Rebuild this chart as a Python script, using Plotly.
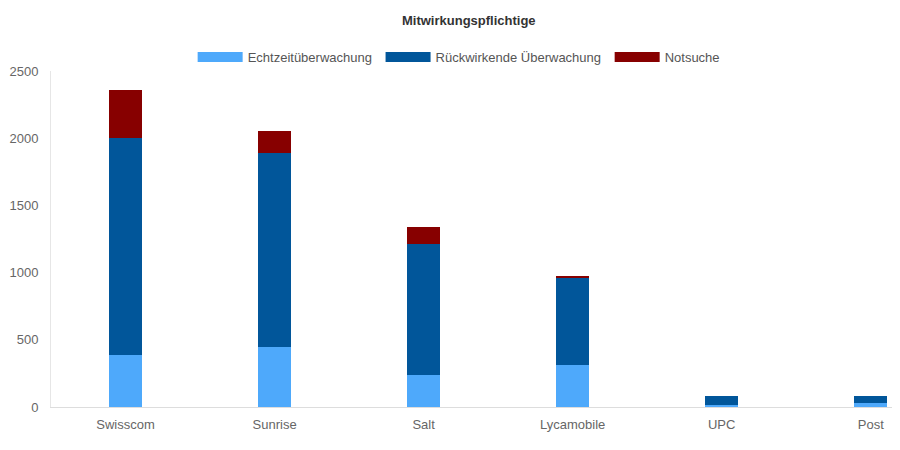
import plotly.graph_objects as go

categories = ["Swisscom", "Sunrise", "Salt", "Lycamobile", "UPC", "Post"]
echtzeit = [390, 450, 235, 312, 15, 30]
rueckwirkend = [1610, 1440, 980, 648, 65, 50]
notsuche = [360, 160, 125, 15, 0, 0]

names = ["Echtzeitüberwachung", "Rückwirkende Überwachung", "Notsuche"]
colors = ["#4ea9fb", "#01569a", "#870000"]

fig = go.Figure()
for name, vals, col in zip(names, [echtzeit, rueckwirkend, notsuche], colors):
    fig.add_trace(go.Bar(x=categories, y=vals, name=name, marker_color=col,
                         marker_line_width=0, showlegend=False, legendgroup=name))
# legend entries with wide swatches
for name, col in zip(names, colors):
    fig.add_trace(go.Scatter(x=[None], y=[None], mode="lines", name=name + " ",
                             line=dict(color=col, width=12), legendgroup=name))

fig.update_layout(
    barmode="stack",
    bargap=0.78,
    width=900, height=450,
    margin=dict(l=43, r=0, t=63, b=51, autoexpand=False),
    paper_bgcolor="white", plot_bgcolor="white",
    font=dict(family="Liberation Sans, Arial, sans-serif", size=13, color="#666666"),
    title=dict(text="<b>Mitwirkungspflichtige</b>", x=0.512, xanchor="center",
               xref="container", yref="container",
               y=0.973, yanchor="middle", font=dict(size=13, color="#333333")),
    legend=dict(orientation="h", x=0.478, xanchor="center", yref="container",
                y=0.891, yanchor="middle", itemwidth=45,
                font=dict(size=13, color="#555555"), traceorder="normal"),
    xaxis=dict(range=[-0.5, 5.25], showline=True, linecolor="#dddddd", linewidth=1,
               ticks="", showgrid=False, automargin=False, ticklabelstandoff=5,
               tickfont=dict(color="#666666")),
    yaxis=dict(range=[0, 2500], tickvals=[0, 500, 1000, 1500, 2000, 2500],
               showline=True, linecolor="#e6e6e6", linewidth=1, showgrid=False,
               zeroline=False, ticks="", ticklabelstandoff=9, automargin=False,
               tickfont=dict(color="#666666")),
)

fig.write_html("out.html")
